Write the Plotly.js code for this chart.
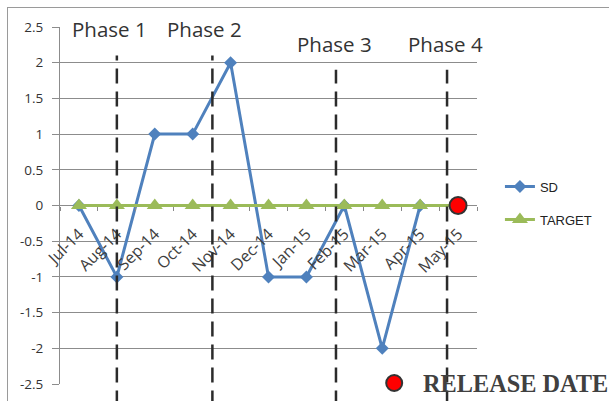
<!DOCTYPE html>
<html><head><meta charset="utf-8">
<script src="https://cdn.plot.ly/plotly-3.0.1.min.js"></script>
<style>
html,body{margin:0;padding:0;background:#fff;}
#frame{position:absolute;left:7px;top:7px;width:700px;height:500px;border-left:1px solid #9a9a9a;border-top:1px solid #9a9a9a;pointer-events:none;}
#chart{width:609px;height:401px;position:absolute;left:0;top:0;}
</style></head>
<body>
<div id="chart"></div>
<div id="frame"></div>
<script>
const months = ['Jul-14','Aug-14','Sep-14','Oct-14','Nov-14','Dec-14','Jan-15','Feb-15','Mar-15','Apr-15','May-15'];
const sdValues = [0, -1, 1, 1, 2, -1, -1, 0, -2, 0, 0];
const targetValues = [0, 0, 0, 0, 0, 0, 0, 0, 0, 0, 0];
const releaseMonth = ['May-15'];
const releaseValue = [0];
const phaseNames = ['Phase 1', 'Phase 2', 'Phase 3', 'Phase 4'];
const phaseBoundaries = [1.0, 3.52, 6.78, 9.71];
const phaseLabelX = [0.8, 3.3, 6.74, 9.66];
const yTicks = [2.5, 2, 1.5, 1, 0.5, 0, -0.5, -1, -1.5, -2, -2.5];

const traces = [
  {x: months, y: sdValues, name: 'SD', type: 'scatter', mode: 'lines+markers',
   line: {color: '#4f81bd', width: 3}, marker: {symbol: 'diamond', size: 10, color: '#4f81bd'},
   legendgroup: 'a'},
  {x: months, y: targetValues, name: 'TARGET', type: 'scatter', mode: 'lines+markers',
   line: {color: '#9bbb59', width: 3}, marker: {symbol: 'triangle-up', size: 14, color: '#9bbb59'},
   legendgroup: 'b'},
  {x: releaseMonth, y: releaseValue, name: 'RELEASE DATE', type: 'scatter', mode: 'markers',
   marker: {symbol: 'circle', size: 17, color: '#ff0000', line: {color: '#333', width: 2}},
   showlegend: false}
];

const shapes = phaseBoundaries.map((b, i) => ({
  type: 'line', xref: 'x', yref: 'paper', x0: b, x1: b,
  y0: -0.06, y1: i < 2 ? 0.92 : 0.88,
  line: {color: '#2b2b2b', width: 2.5, dash: '15px,8px'}, layer: 'above'
}));
shapes.push({type: 'circle', xref: 'paper', yref: 'paper', xsizemode: 'pixel', ysizemode: 'pixel',
  xanchor: (399 - 60) / 423, yanchor: (384 - 383) / 357, x0: -8, x1: 8, y0: -8, y1: 8,
  fillcolor: '#ff0000', line: {color: '#333', width: 2}});

const annotations = phaseNames.map((p, i) => ({
  text: p, xref: 'x', yref: 'paper', x: phaseLabelX[i], y: i < 2 ? 0.995 : 0.952,
  showarrow: false, xanchor: 'center', yanchor: 'middle',
  font: {family: 'Open Sans, sans-serif', size: 20.5, color: '#333'}
}));
annotations.push({text: '<b>RELEASE DATE</b>', xref: 'paper', yref: 'paper',
  x: (426 - 60) / 423, y: (384 - 383) / 357, xanchor: 'left', yanchor: 'middle', showarrow: false,
  font: {family: 'Liberation Serif, Times New Roman, serif', size: 24.3, color: '#404040'}});

const layout = {
  width: 609, height: 401,
  margin: {l: 60, r: 126, t: 27, b: 17},
  paper_bgcolor: 'rgba(0,0,0,0)', plot_bgcolor: 'rgba(0,0,0,0)',
  showlegend: true,
  legend: {x: 1.055, y: 0.595, xanchor: 'left', yanchor: 'top', traceorder: 'grouped', tracegroupgap: 13,
    font: {family: 'Liberation Sans Narrow, Liberation Sans, sans-serif', size: 13, color: '#222'},
    bgcolor: 'rgba(0,0,0,0)'},
  xaxis: {type: 'category', range: [-0.5, 10.5], anchor: 'free', position: 0.5,
    tickangle: -45, ticks: 'outside', tickson: 'boundaries', ticklen: 4, tickcolor: '#888',
    ticklabelstandoff: 15,
    showgrid: false, showline: false, zeroline: false,
    tickfont: {family: 'Open Sans, sans-serif', size: 16, color: '#404040'}},
  yaxis: {range: [-2.5, 2.5], tickvals: yTicks, ticktext: yTicks.map(String),
    showgrid: true, gridcolor: '#8c8c8c', gridwidth: 1, zeroline: true, zerolinecolor: '#8c8c8c', zerolinewidth: 1,
    showline: true, linecolor: '#8c8c8c', linewidth: 1, ticks: 'outside', ticklen: 7, tickcolor: '#8c8c8c',
    ticklabelstandoff: 6,
    tickfont: {family: 'Open Sans, sans-serif', size: 13.5, color: '#333'}},
  shapes: shapes, annotations: annotations
};
Plotly.newPlot('chart', traces, layout, {displayModeBar: false, staticPlot: true});
</script>
</body></html>
